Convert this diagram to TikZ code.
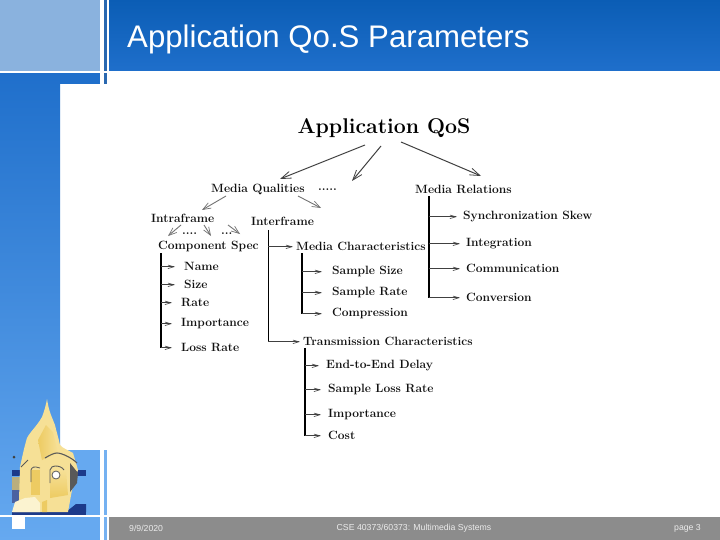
\documentclass[tikz,border=0pt]{standalone}
\usepackage{fontspec}
\newfontfamily\arialf{Liberation Sans}
\usetikzlibrary{arrows.meta,positioning}
\definecolor{topblue}{HTML}{0B5DB5}
\definecolor{midblue}{HTML}{1F6FCB}
\definecolor{lowblue}{HTML}{66A9F0}
\definecolor{paleblue}{HTML}{8AB2DE}
\definecolor{barblue}{HTML}{2A68B0}
\definecolor{footgray}{HTML}{8C8C8C}
\definecolor{inkdark}{HTML}{111111}
\definecolor{domea}{HTML}{F6E096}
\definecolor{domeb}{HTML}{EDCB62}
\definecolor{domec}{HTML}{FBF3D0}
\definecolor{navy}{HTML}{1C3A8A}
\definecolor{tanb}{HTML}{B9AE7E}
\definecolor{slate}{HTML}{4A62A0}
\tikzset{
 x=1pt,y=-1pt,
 lbl/.style={inner sep=0pt,yshift=-0.8pt,font=\bfseries\fontsize{12}{14}\selectfont,text=inkdark,anchor=west},
 head/.style={inner sep=0pt,yshift=-0.8pt,font=\bfseries\fontsize{21.3}{24}\selectfont,text=black},
 foot/.style={inner sep=0pt,font=\arialf\fontsize{8.7}{10}\selectfont,text=white!92!black},
 trunk/.style={draw=black,line width=1.5pt,line cap=butt},
 branch/.style={draw=black!75,line width=1pt,-{Straight Barb[length=6pt,width=3.5pt,line width=0.6pt]},shorten >=6pt},
 tree/.style={draw=black!75,line width=1pt,-{Straight Barb[length=10pt,width=7pt,line width=0.8pt]}},
 soft/.style={draw=black!55,line width=0.9pt,-{Straight Barb[length=8pt,width=6pt,line width=0.7pt]}},
}
\begin{document}
\begin{tikzpicture}
\useasboundingbox (0,0) rectangle (720,540);
% background
\fill[white] (0,0) rectangle (720,540);
\shade[top color=midblue,bottom color=lowblue] (0,71) rectangle (60,540);
\fill[midblue] (60,73) rectangle (100,84);
\fill[barblue] (104,73) rectangle (107,84);
\fill[lowblue] (60,450) rectangle (100,540);
\fill[lowblue!90!white] (104,450) rectangle (107,540);
\fill[white] (0,515) rectangle (109,517);
\shade[top color=topblue,bottom color=midblue] (109,0) rectangle (720,71);
\fill[paleblue] (0,0) rectangle (100,71);
\fill[barblue] (104,0) rectangle (107,71);
\fill[white] (0,71) rectangle (109,73);
\fill[footgray] (109,517) rectangle (720,540);
\fill[white] (12,517) rectangle (25,529);
% chapel
\fill[lowblue] (12,470) rectangle (86,515);
\fill[navy] (12,470) rectangle (86,476);
\fill[tanb] (12,477) rectangle (22,490);
\fill[slate] (12,490) rectangle (22,503);
\fill[navy] (12,512) rectangle (86,515);
\fill[navy] (66,512) -- (76,504) -- (86,504) -- (86,512) -- cycle;
\fill[domea] (47,399) .. controls (46,405) and (44,412) .. (42,417)
  .. controls (37,426) and (30,432) .. (27,438)
  .. controls (24,448) and (22,458) .. (20,467)
  -- (19,500) -- (13,512) -- (68,512) -- (72,490) -- (78,470)
  -- (73,453) .. controls (68,450) and (62,448) .. (60,445)
  .. controls (58,436) and (56,430) .. (55,425)
  -- (51,415) .. controls (49,410) and (48,405) .. (47,399) -- cycle;
\shade[left color=domeb,right color=domea] (46,425) -- (53,432) -- (58,453) -- (42,460) -- (38,440) -- cycle;
\shade[top color=domea,bottom color=domeb] (50,470) -- (66,470) -- (68,495) -- (50,498) -- cycle;
\fill[domeb] (31,470) -- (40,470) -- (40,495) -- (31,495) -- cycle;
\fill[domec] (12,512) -- (15,502) -- (25,498) -- (35,497) -- (40,503) -- (40,512) -- cycle;
\fill[domeb] (42,502) -- (47,500) -- (47,512) -- (42,512) -- cycle;
\fill[black!65] (70,463) -- (78,473) -- (77,483) -- (70,492) -- cycle;
\draw[black!65,line width=1.1pt] (45,458) .. controls (50,455) and (54,453) .. (57,453) .. controls (62,453) and (72,458) .. (77,463);
\draw[black!65,line width=0.9pt] (50,483) -- (50,470) .. controls (51,467) and (53,466) .. (55,466) .. controls (59,466) and (62,467) .. (64,470);
\draw[black!65,line width=0.8pt] (31,482) -- (31,470) .. controls (32,467) and (34,466) .. (40,468);
\draw[black!65,line width=0.8pt] (21,467) -- (28,460);
\fill[white] (56,475) circle (4);
\draw[black!65,line width=0.8pt] (56,475) circle (4);
\fill[black!75] (14,457) circle (1.5);
% titles
\node[inner sep=0pt,anchor=west,text=white,font=\arialf\fontsize{31.2}{36}\selectfont] (title) at (127,39.5) {Application Qo.S Parameters};
\node[foot,anchor=west] (date) at (129,528) {9/9/2020};
\node[foot] (course) at (414,528) {CSE 40373/60373: Multimedia Systems};
\node[foot,anchor=east] (pageno) at (701,528) {page 3};
% top of tree
\node[head] (app) at (384,127) {Application QoS};
\node[lbl] (mq) at (211,189) {Media Qualities};
\node[lbl] (dots1) at (318,189) {.....};
\node[lbl] (mr) at (415,189) {Media Relations};
\coordinate (a1) at (365,145);
\coordinate (a1e) at (280,179);
\coordinate (a2) at (381,146);
\coordinate (a2e) at (352,181);
\coordinate (a3) at (401,142);
\coordinate (a3e) at (481,176);
\draw[tree] (a1) -- (a1e);
\draw[tree] (a2) -- (a2e);
\draw[tree] (a3) -- (a3e);
\node[lbl] (intra) at (151,218) {Intraframe};
\node[lbl] (inter) at (251,221) {Interframe};
\coordinate (b1) at (226,196);
\coordinate (b1e) at (202,210);
\coordinate (b2) at (298,196);
\coordinate (b2e) at (321,208);
\draw[soft] (b1) -- (b1e);
\draw[soft] (b2) -- (b2e);
\coordinate (c1) at (181,225);
\coordinate (c1e) at (168,236);
\coordinate (c2) at (204,225);
\coordinate (c2e) at (211,236);
\coordinate (c3) at (228,225);
\coordinate (c3e) at (240,234);
\draw[soft] (c1) -- (c1e);
\draw[soft] (c2) -- (c2e);
\draw[soft] (c3) -- (c3e);
\node[lbl] (dots2) at (182,233) {....};
\node[lbl] (dots3) at (221,233) {...};
% component spec
\node[lbl] (cs) at (158,246) {Component Spec};
\node[lbl] (n1) at (184,266) {Name};
\node[lbl] (n2) at (184,284) {Size};
\node[lbl] (n3) at (181,302) {Rate};
\node[lbl] (n4) at (181,323) {Importance};
\node[lbl] (n5) at (181,347) {Loss Rate};
\coordinate (t1) at (161,253);
\draw[trunk] (t1) -- (n5.west-|t1);
\foreach \n in {n1,n2,n3,n4,n5} \draw[branch] (\n.west-|t1) -- ([xshift=-3pt]\n.west);
% interframe trunk
\node[lbl] (mc) at (296,246) {Media Characteristics};
\node[lbl] (tc) at (303,341) {Transmission Characteristics};
\coordinate (t2) at (268,230);
\draw[trunk,line width=1pt] (t2) -- (tc.west-|t2);
\draw[branch,shorten >=3pt] (mc.west-|t2) -- (mc.west);
\draw[branch,line width=0.8pt,shorten >=3pt] (tc.west-|t2) -- (tc.west);
% media characteristics
\node[lbl] (s1) at (332,271) {Sample Size};
\node[lbl] (s2) at (332,292) {Sample Rate};
\node[lbl] (s3) at (332,313) {Compression};
\coordinate (t3) at (302,253);
\draw[trunk] (t3) -- (s3.west-|t3);
\foreach \n in {s1,s2,s3} \draw[branch] (\n.west-|t3) -- ([xshift=-4pt]\n.west);
% transmission
\node[lbl] (e1) at (326,365) {End-to-End Delay};
\node[lbl] (e2) at (328,389) {Sample Loss Rate};
\node[lbl] (e3) at (328,414) {Importance};
\node[lbl] (e4) at (328,435) {Cost};
\coordinate (t4) at (305,348);
\draw[trunk,line width=1.1pt] (t4) -- (e4.west-|t4);
\foreach \n in {e1,e2,e3,e4} \draw[branch] (\n.west-|t4) -- ([xshift=-1pt]\n.west);
% media relations
\node[lbl] (r1) at (463,216) {Synchronization Skew};
\node[lbl] (r2) at (466,243) {Integration};
\node[lbl] (r3) at (466,268) {Communication};
\node[lbl] (r4) at (466,297) {Conversion};
\coordinate (t5) at (429,196);
\draw[trunk] (t5) -- (r4.west-|t5);
\foreach \n in {r1,r2,r3,r4} \draw[branch,shorten >=6pt] (\n.west-|t5) -- (\n.west);
\end{tikzpicture}
\end{document}
